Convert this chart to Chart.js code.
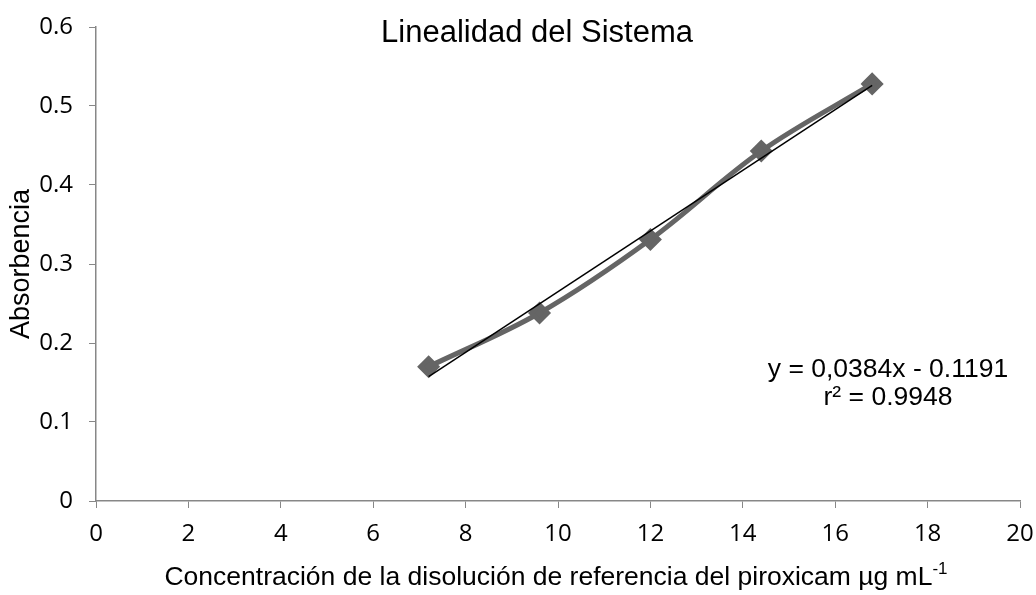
<!DOCTYPE html>
<html>
<head>
<meta charset="utf-8">
<script src="https://cdn.jsdelivr.net/npm/chart.js@4/dist/chart.umd.min.js"></script>
<style>
  html, body { margin: 0; padding: 0; background: #fff; }
  #wrap { width: 1036px; height: 595px; }
</style>
</head>
<body>
<div id="wrap"><canvas id="c" width="1036" height="595"></canvas></div>
<script>
// Concentration of the piroxicam reference solution (µg/mL)
const concentrations = [7.2, 9.6, 12, 14.4, 16.8];
// Measured absorbance at each concentration
const absorbances = [0.170, 0.238, 0.331, 0.443, 0.528];
// Least-squares fit reported on the chart
const slope = 0.0384;
const intercept = -0.1191;
const rSquared = 0.9948;
const xTicks = [0, 2, 4, 6, 8, 10, 12, 14, 16, 18, 20];
const yTicks = [0, 0.1, 0.2, 0.3, 0.4, 0.5, 0.6];

const chartTitle = 'Linealidad del Sistema';
const xTitle = 'Concentración de la disolución de referencia del piroxicam µg mL';
const xTitleSup = '-1';
const yTitle = 'Absorbencia';
const equationText = 'y = 0,0384x - 0.1191';
const r2Text = 'r² = ' + rSquared.toFixed(4);

const measured = concentrations.map((x, i) => ({ x: x, y: absorbances[i] }));
const xFirst = concentrations[0];
const xLast = concentrations[concentrations.length - 1];
const fitLine = [
  { x: xFirst, y: slope * xFirst + intercept },
  { x: xLast, y: slope * xLast + intercept }
];

const ARIAL = '"Liberation Sans", Arial, sans-serif';
const TICKFONT = '"Open Sans", "Carlito", sans-serif';
const AXIS_GREY = '#878787';

// Title, equation and x-axis title (with superscript) drawn as overlay text
const textOverlay = {
  id: 'textOverlay',
  afterDraw(chart) {
    const ctx = chart.ctx;
    const area = chart.chartArea;
    ctx.save();
    ctx.fillStyle = '#000';
    ctx.textBaseline = 'middle';

    ctx.font = '31px ' + ARIAL;
    ctx.textAlign = 'center';
    ctx.fillText(chartTitle, 537, 33);

    ctx.font = '26.5px ' + ARIAL;
    ctx.fillText(equationText, 888, 370);
    ctx.fillText(r2Text, 888, 398);

    // x-axis title with superscript
    ctx.font = '26.5px ' + ARIAL;
    const mainW = ctx.measureText(xTitle).width;
    ctx.font = '17px ' + ARIAL;
    const supW = ctx.measureText(xTitleSup).width;
    const totalW = mainW + supW;
    const cx = (area.left + area.right) / 2 - 2;
    const startX = cx - totalW / 2;
    ctx.textAlign = 'left';
    ctx.font = '26.5px ' + ARIAL;
    ctx.fillText(xTitle, startX, 578);
    ctx.font = '17px ' + ARIAL;
    ctx.fillText(xTitleSup, startX + mainW, 569);
    ctx.restore();
  }
};

new Chart(document.getElementById('c'), {
  type: 'scatter',
  data: {
    datasets: [
      {
        label: 'Absorbancia',
        data: measured,
        showLine: true,
        borderColor: '#656565',
        backgroundColor: '#656565',
        borderWidth: 5,
        tension: 0.35,
        pointStyle: 'rectRot',
        pointRadius: 8,
        pointHoverRadius: 8,
        order: 2
      },
      {
        label: 'Lineal',
        data: fitLine,
        showLine: true,
        borderColor: '#000',
        borderWidth: 1.5,
        pointRadius: 0,
        tension: 0,
        order: 1
      }
    ]
  },
  options: {
    responsive: false,
    animation: false,
    events: [],
    layout: { padding: { top: 27, right: 16, left: 0, bottom: 0 } },
    plugins: {
      legend: { display: false },
      title: { display: false },
      tooltip: { enabled: false }
    },
    scales: {
      x: {
        type: 'linear',
        min: 0,
        max: 20,
        afterBuildTicks(scale) { scale.ticks = xTicks.map(v => ({ value: v })); },
        afterFit(scale) {
          scale.height = 94;
          scale.paddingLeft = 0;
          scale.paddingRight = 0;
        },
        grid: {
          display: true,
          drawOnChartArea: false,
          drawTicks: true,
          tickLength: 7,
          color: AXIS_GREY,
          lineWidth: 1
        },
        border: { display: true, color: AXIS_GREY, width: 1.5 },
        ticks: {
          color: '#000',
          font: { family: TICKFONT, size: 24 },
          padding: 12,
          maxRotation: 0,
          callback: v => String(v)
        },
        title: { display: false }
      },
      y: {
        type: 'linear',
        min: 0,
        max: 0.6,
        afterBuildTicks(scale) { scale.ticks = yTicks.map(v => ({ value: v })); },
        afterFit(scale) {
          scale.width = 96;
          scale.paddingTop = 0;
          scale.paddingBottom = 0;
        },
        grid: {
          display: true,
          drawOnChartArea: false,
          drawTicks: true,
          tickLength: 7,
          color: AXIS_GREY,
          lineWidth: 1
        },
        border: { display: true, color: AXIS_GREY, width: 1.5 },
        ticks: {
          color: '#000',
          font: { family: TICKFONT, size: 24 },
          padding: 16,
          callback: v => String(Math.round(v * 10) / 10)
        },
        title: {
          display: true,
          text: yTitle,
          color: '#000',
          font: { family: ARIAL, size: 27 },
          padding: { top: 5, bottom: 0 }
        }
      }
    }
  },
  plugins: [textOverlay]
});
</script>
</body>
</html>
